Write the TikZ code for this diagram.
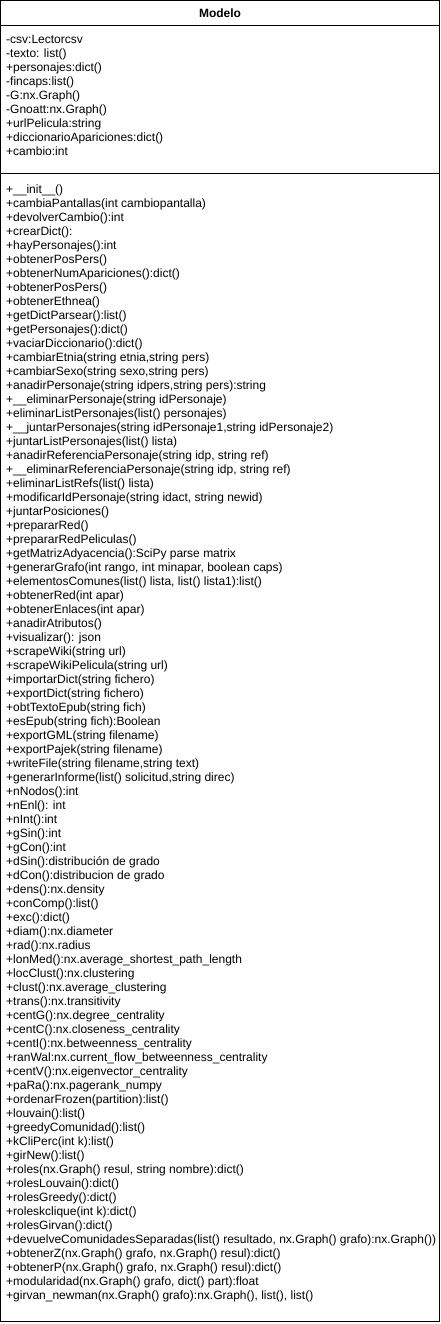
\documentclass[tikz,border=0pt]{standalone}
\usepackage{fontspec}
\setmainfont{Liberation Sans}
\begin{document}
\begin{tikzpicture}[x=1pt,y=-1pt,
  umltext/.style={anchor=base west, inner sep=0pt, font=\fontsize{12}{14}\selectfont},
  umltitle/.style={anchor=base, inner sep=0pt, font=\fontsize{12}{14}\selectfont\bfseries},
  umlline/.style={draw=black, line width=1pt}]
\useasboundingbox[fill=white] (0,0) rectangle (441,1324);
\draw[umlline] (0.5,0.5) rectangle (439.5,1321.5);
\coordinate (s1w) at (0.5,26);
\coordinate (s1e) at (439.5,26);
\coordinate (s2w) at (0.5,174);
\coordinate (s2e) at (439.5,174);
\draw[umlline] (s1w) -- (s1e);
\draw[umlline] (s2w) -- (s2e);
\node[umltitle] (title) at (220,17.5) {Modelo};
\foreach \t [count=\i] in {
{-csv:Lectorcsv},
{-texto: list()},
{+personajes:dict()},
{-fincaps:list()},
{-G:nx.Graph()},
{-Gnoatt:nx.Graph()},
{+urlPelicula:string},
{+diccionarioApariciones:dict()},
{+cambio:int}}
{\node[umltext] (a\i) at (6,{44+14*(\i-1)}) {\t};}
\foreach \t [count=\i] in {
{+\_\_init\_\_()},
{+cambiaPantallas(int cambiopantalla)},
{+devolverCambio():int},
{+crearDict():},
{+hayPersonajes():int},
{+obtenerPosPers()},
{+obtenerNumApariciones():dict()},
{+obtenerPosPers()},
{+obtenerEthnea()},
{+getDictParsear():list()},
{+getPersonajes():dict()},
{+vaciarDiccionario():dict()},
{+cambiarEtnia(string etnia,string pers)},
{+cambiarSexo(string sexo,string pers)},
{+anadirPersonaje(string idpers,string pers):string},
{+\_\_eliminarPersonaje(string idPersonaje)},
{+eliminarListPersonajes(list() personajes)},
{+\_\_juntarPersonajes(string idPersonaje1,string idPersonaje2)},
{+juntarListPersonajes(list() lista)},
{+anadirReferenciaPersonaje(string idp, string ref)},
{+\_\_eliminarReferenciaPersonaje(string idp, string ref)},
{+eliminarListRefs(list() lista)},
{+modificarIdPersonaje(string idact, string newid)},
{+juntarPosiciones()},
{+prepararRed()},
{+prepararRedPeliculas()},
{+getMatrizAdyacencia():SciPy parse matrix},
{+generarGrafo(int rango, int minapar, boolean caps)},
{+elementosComunes(list() lista, list() lista1):list()},
{+obtenerRed(int apar)},
{+obtenerEnlaces(int apar)},
{+anadirAtributos()},
{+visualizar(): json},
{+scrapeWiki(string url)},
{+scrapeWikiPelicula(string url)},
{+importarDict(string fichero)},
{+exportDict(string fichero)},
{+obtTextoEpub(string fich)},
{+esEpub(string fich):Boolean},
{+exportGML(string filename)},
{+exportPajek(string filename)},
{+writeFile(string filename,string text)},
{+generarInforme(list() solicitud,string direc)},
{+nNodos():int},
{+nEnl(): int},
{+nInt():int},
{+gSin():int},
{+gCon():int},
{+dSin():distribución de grado},
{+dCon():distribucion de grado},
{+dens():nx.density},
{+conComp():list()},
{+exc():dict()},
{+diam():nx.diameter},
{+rad():nx.radius},
{+lonMed():nx.average\_shortest\_path\_length},
{+locClust():nx.clustering},
{+clust():nx.average\_clustering},
{+trans():nx.transitivity},
{+centG():nx.degree\_centrality},
{+centC():nx.closeness\_centrality},
{+centI():nx.betweenness\_centrality},
{+ranWal:nx.current\_flow\_betweenness\_centrality},
{+centV():nx.eigenvector\_centrality},
{+paRa():nx.pagerank\_numpy},
{+ordenarFrozen(partition):list()},
{+louvain():list()},
{+greedyComunidad():list()},
{+kCliPerc(int k):list()},
{+girNew():list()},
{+roles(nx.Graph() resul, string nombre):dict()},
{+rolesLouvain():dict()},
{+rolesGreedy():dict()},
{+roleskclique(int k):dict()},
{+rolesGirvan():dict()},
{+devuelveComunidadesSeparadas(list() resultado, nx.Graph() grafo):nx.Graph())},
{+obtenerZ(nx.Graph() grafo, nx.Graph() resul):dict()},
{+obtenerP(nx.Graph() grafo, nx.Graph() resul):dict()},
{+modularidad(nx.Graph() grafo, dict() part):float},
{+girvan\_newman(nx.Graph() grafo):nx.Graph(), list(), list()}}
{\node[umltext] (m\i) at (6,{193.5+14*(\i-1)}) {\t};}
\end{tikzpicture}
\end{document}
